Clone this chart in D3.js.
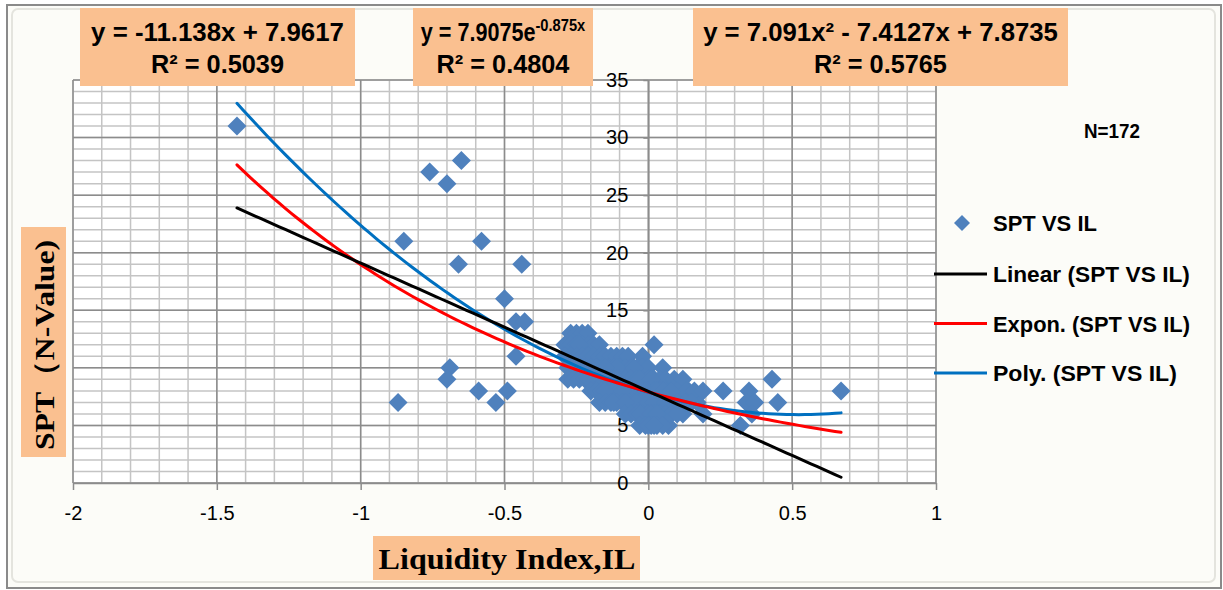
<!DOCTYPE html>
<html>
<head>
<meta charset="utf-8">
<script src="https://cdnjs.cloudflare.com/ajax/libs/d3/7.8.5/d3.min.js"></script>
<style>
  body { margin: 0; background: #ffffff; }
  svg { display: block; }
</style>
</head>
<body>
<svg id="svg" width="1223" height="590"></svg>
<script>
// SPT N-value against liquidity index, 172 borings
var liquidityIndex = [
  -1.43, -0.76, -0.70, -0.65, -0.85, -0.58, -0.66, -0.44, -0.50, -0.46, -0.43, -0.46,
  -0.87, -0.69, -0.70, -0.59, -0.53, -0.49,
  0.02, -0.02, 0.05, 0.26, 0.35, 0.43, 0.34, 0.37, 0.45, 0.32, 0.67, 0.36,
  0.14, 0.11, 0.08, 0.17, 0.12, 0.19, 0.07,
  -0.27, -0.25, -0.23, -0.21,
  -0.29, -0.27, -0.25, -0.23, -0.21, -0.19, -0.17, -0.24,
  -0.29, -0.27, -0.25, -0.23, -0.21, -0.19, -0.17, -0.15, -0.13, -0.11, -0.09, -0.07,
  -0.28, -0.26, -0.24, -0.22, -0.20, -0.18, -0.16, -0.14, -0.12, -0.10, -0.08, -0.06,
  -0.04, -0.02, 0.00, -0.11, -0.05, -0.25, -0.15,
  -0.28, -0.26, -0.24, -0.22, -0.20, -0.18, -0.16, -0.14, -0.12, -0.10, -0.08, -0.06,
  -0.04, -0.02, 0.00, 0.02, 0.04, 0.06, 0.09, 0.12, -0.13, -0.03, 0.01, -0.21, -0.11,
  -0.20, -0.18, -0.16, -0.14, -0.12, -0.10, -0.08, -0.06, -0.04, -0.02, 0.00, 0.02,
  0.04, 0.06, 0.10, 0.13, 0.16, 0.19, -0.15, -0.07, -0.01, 0.03, 0.05, -0.09, 0.08,
  -0.17, -0.15, -0.13, -0.11, -0.09, -0.07, -0.05, -0.03, -0.01, 0.01, 0.03, 0.05,
  0.08, 0.10, 0.13, 0.15, -0.12, -0.04, 0.00, 0.02, -0.08, 0.06,
  -0.08, -0.06, -0.04, -0.02, 0.00, 0.02, 0.04, 0.06, 0.08, 0.10, -0.03, 0.01, 0.03,
  -0.03, -0.01, 0.01, 0.03, 0.05, 0.00, 0.02
];
var sptValue = [
  31, 27, 26, 28, 21, 21, 19, 19, 16, 14, 14, 11,
  7, 10, 9, 8, 7, 8,
  12, 11, 10, 8, 8, 9, 7, 7, 7, 5, 8, 6,
  8, 8, 8, 7, 6, 6, 5,
  13, 13, 13, 13,
  12, 12, 12, 12, 12, 12, 12, 12,
  11, 11, 11, 11, 11, 11, 11, 11, 11, 11, 11, 11,
  10, 10, 10, 10, 10, 10, 10, 10, 10, 10, 10, 10,
  10, 10, 10, 10, 10, 10, 10,
  9, 9, 9, 9, 9, 9, 9, 9, 9, 9, 9, 9,
  9, 9, 9, 9, 9, 9, 9, 9, 9, 9, 9, 9, 9,
  8, 8, 8, 8, 8, 8, 8, 8, 8, 8, 8, 8,
  8, 8, 8, 8, 8, 8, 8, 8, 8, 8, 8, 8, 8,
  7, 7, 7, 7, 7, 7, 7, 7, 7, 7, 7, 7,
  7, 7, 7, 7, 7, 7, 7, 7, 7, 7,
  6, 6, 6, 6, 6, 6, 6, 6, 6, 6, 6, 6, 6,
  5, 5, 5, 5, 5, 5, 5
];

// trendline coefficients as printed on the chart
var linearCoef = [-11.138, 7.9617];          // a*x + b
var exponCoef = [7.9075, -0.875];            // a*e^(b*x)
var polyCoef = [7.091, -7.4127, 7.8735];     // a*x^2 + b*x + c

var xTicks = [-2, -1.5, -1, -0.5, 0, 0.5, 1];
var yTicks = [0, 5, 10, 15, 20, 25, 30, 35];

var legendNames = ['Linear (SPT VS IL)', 'Expon. (SPT VS IL)', 'Poly. (SPT VS IL)'];
var legendColors = ['#000000', '#ff0000', '#0070c0'];

var plot = {left: 73, top: 80, right: 936, bottom: 483};
var x = d3.scaleLinear().domain([-2, 1]).range([plot.left, plot.right]);
var y = d3.scaleLinear().domain([0, 35]).range([plot.bottom, plot.top]);
var svg = d3.select('#svg');
var sans = '"Liberation Sans", Arial, sans-serif';
var serif = '"Liberation Serif", "Times New Roman", serif';

// scale a text horizontally to the width it has in the picture
function fit(t, w, cx, cy, rot){
    var bw = t.node().getBBox().width;
    var s = w / bw;
    t.attr('x', 0).attr('y', 0);
    t.attr('transform', 'translate(' + cx + ',' + cy + ')' + (rot ? ' rotate(' + rot + ')' : '') + ' scale(' + s + ',1)');
}

function genFrame(){
    svg.append('rect')
        .attr('x', 0).attr('y', 0)
        .attr('width', 1223).attr('height', 590)
        .attr('fill', '#ffffff');
    svg.append('rect')
        .attr('x', 7).attr('y', 5)
        .attr('width', 1214).attr('height', 583)
        .attr('fill', '#fcfcf8')
        .attr('stroke', '#8a8a8a')
        .attr('stroke-width', 2);
    svg.append('rect')
        .attr('x', 12).attr('y', 9)
        .attr('width', 1203).attr('height', 573)
        .attr('rx', 6)
        .attr('fill', 'none')
        .attr('stroke', '#e4e4de')
        .attr('stroke-width', 2);
}

function genGrid(){
    svg.append('rect')
        .attr('x', plot.left).attr('y', plot.top)
        .attr('width', plot.right-plot.left).attr('height', plot.bottom-plot.top)
        .attr('fill', '#ffffff');
    var g = svg.append('g');
    g.selectAll('line.vminor')
        .data(x.ticks(30))
        .enter().append('line')
        .attr('x1', function(d){ return x(d); })
        .attr('x2', function(d){ return x(d); })
        .attr('y1', plot.top).attr('y2', plot.bottom)
        .attr('stroke', '#c4c4c4').attr('stroke-width', 1.5);
    g.selectAll('line.hminor')
        .data(y.ticks(35))
        .enter().append('line')
        .attr('x1', plot.left).attr('x2', plot.right)
        .attr('y1', function(d){ return y(d); })
        .attr('y2', function(d){ return y(d); })
        .attr('stroke', '#c4c4c4').attr('stroke-width', 1.5);
    g.selectAll('line.vmajor')
        .data(xTicks)
        .enter().append('line')
        .attr('x1', function(d){ return x(d); })
        .attr('x2', function(d){ return x(d); })
        .attr('y1', plot.top).attr('y2', plot.bottom)
        .attr('stroke', '#8c8c8c').attr('stroke-width', 1.5);
    g.selectAll('line.hmajor')
        .data(yTicks)
        .enter().append('line')
        .attr('x1', plot.left).attr('x2', plot.right)
        .attr('y1', function(d){ return y(d); })
        .attr('y2', function(d){ return y(d); })
        .attr('stroke', '#8c8c8c').attr('stroke-width', 1.5);
}

function genAxes(){
    var xa = svg.append('g')
        .attr('transform', 'translate(0,' + y(0) + ')')
        .call(d3.axisBottom(x).tickValues(xTicks).tickSize(7).tickSizeOuter(0)
            .tickPadding(16).tickFormat(function(d){ return String(d); }));
    var ya = svg.append('g')
        .attr('transform', 'translate(' + x(0) + ',0)')
        .call(d3.axisLeft(y).tickValues(yTicks).tickSize(5).tickSizeOuter(0)
            .tickPadding(15).tickFormat(function(d){ return String(d); }));
    [xa, ya].forEach(function(a){
        a.select('.domain').attr('stroke', '#8c8c8c').attr('stroke-width', 1.5);
        a.selectAll('.tick line').attr('stroke', '#8c8c8c').attr('stroke-width', 1.5);
        a.selectAll('.tick text')
            .attr('fill', '#000000')
            .style('font-family', sans)
            .style('font-size', '20px');
    });
}

function diamond(r){
    return 'M0,' + (-r) + 'L' + r + ',0L0,' + r + 'L' + (-r) + ',0Z';
}

function genPoints(){
    svg.append('g')
        .selectAll('path')
        .data(liquidityIndex)
        .enter().append('path')
        .attr('d', diamond(9.5))
        .attr('transform', function(d, i){ return 'translate(' + x(d) + ',' + y(sptValue[i]) + ')'; })
        .attr('fill', '#4f81bd');
}

function genTrends(){
    var xmin = d3.min(liquidityIndex), xmax = d3.max(liquidityIndex);
    var xs = d3.range(0, 101).map(function(i){ return xmin + (xmax-xmin)*i/100; });
    var fns = [
        function(v){ return polyCoef[0]*v*v + polyCoef[1]*v + polyCoef[2]; },
        function(v){ return exponCoef[0]*Math.exp(exponCoef[1]*v); },
        function(v){ return linearCoef[0]*v + linearCoef[1]; }
    ];
    var colors = ['#0070c0', '#ff0000', '#000000'];
    var line = d3.line()
        .x(function(d){ return x(d[0]); })
        .y(function(d){ return y(d[1]); })
        .curve(d3.curveLinear);
    fns.forEach(function(f, k){
        svg.append('path')
            .attr('d', line(xs.map(function(v){ return [v, f(v)]; })))
            .attr('fill', 'none')
            .attr('stroke', colors[k])
            .attr('stroke-width', 3)
            .attr('stroke-linecap', 'round');
    });
}

function eqBox(x0, x1, lines, widths){
    svg.append('rect')
        .attr('x', x0).attr('y', 8)
        .attr('width', x1-x0).attr('height', 78)
        .attr('fill', '#fac090');
    lines.forEach(function(parts, i){
        var t = svg.append('text')
            .attr('text-anchor', 'middle')
            .style('font-family', sans)
            .style('font-weight', 'bold')
            .style('font-size', '25px');
        parts.forEach(function(p){
            var s = t.append('tspan').text(p[0]);
            if(p[1]){
                s.attr('dy', -10).style('font-size', '17px');
            }
        });
        fit(t, widths[i], (x0+x1)/2, 41 + i*32);
    });
}

function genLabels(){
    eqBox(80, 355, [[['y = -11.138x + 7.9617']], [['R² = 0.5039']]], [253, 133]);
    eqBox(413, 593, [[['y = 7.9075e'], ['-0.875x', 1]], [['R² = 0.4804']]], [165, 133]);
    eqBox(693, 1068, [[['y = 7.091x² - 7.4127x + 7.8735']], [['R² = 0.5765']]], [355, 133]);

    // axis titles
    svg.append('rect')
        .attr('x', 21).attr('y', 227)
        .attr('width', 45).attr('height', 230)
        .attr('fill', '#fac090');
    var yt = svg.append('text')
        .attr('text-anchor', 'middle')
        .style('font-family', serif)
        .style('font-weight', 'bold')
        .style('font-size', '28px')
        .text('SPT（N-Value)');
    fit(yt, 210, 54, 345, -90);
    svg.append('rect')
        .attr('x', 373).attr('y', 536)
        .attr('width', 267).attr('height', 44)
        .attr('fill', '#fac090');
    var xt = svg.append('text')
        .attr('text-anchor', 'middle')
        .style('font-family', serif)
        .style('font-weight', 'bold')
        .style('font-size', '30px')
        .text('Liquidity Index,IL');
    fit(xt, 257, 507, 569);

    var nt = svg.append('text')
        .attr('text-anchor', 'start')
        .style('font-family', sans)
        .style('font-weight', 'bold')
        .style('font-size', '21px')
        .text('N=172');
    fit(nt, 56, 1084, 138);
}

function genLegend(){
    var lg = svg.append('g');
    var widths = [197, 197, 184];
    lg.append('path')
        .attr('d', diamond(8))
        .attr('transform', 'translate(962,223)')
        .attr('fill', '#4f81bd');
    var t0 = lg.append('text')
        .style('font-family', sans)
        .style('font-weight', 'bold')
        .style('font-size', '22px')
        .text('SPT VS IL');
    fit(t0, 104, 993, 231);
    legendNames.forEach(function(n, i){
        var yy = 274 + i*49.5;
        lg.append('line')
            .attr('x1', 934).attr('x2', 987)
            .attr('y1', yy).attr('y2', yy)
            .attr('stroke', legendColors[i])
            .attr('stroke-width', 3);
        var t = lg.append('text')
            .style('font-family', sans)
            .style('font-weight', 'bold')
            .style('font-size', '22px')
            .text(n);
        fit(t, widths[i], 993, yy + 8);
    });
}

genFrame();
genGrid();
genAxes();
genPoints();
genTrends();
genLabels();
genLegend();
</script>
</body>
</html>
